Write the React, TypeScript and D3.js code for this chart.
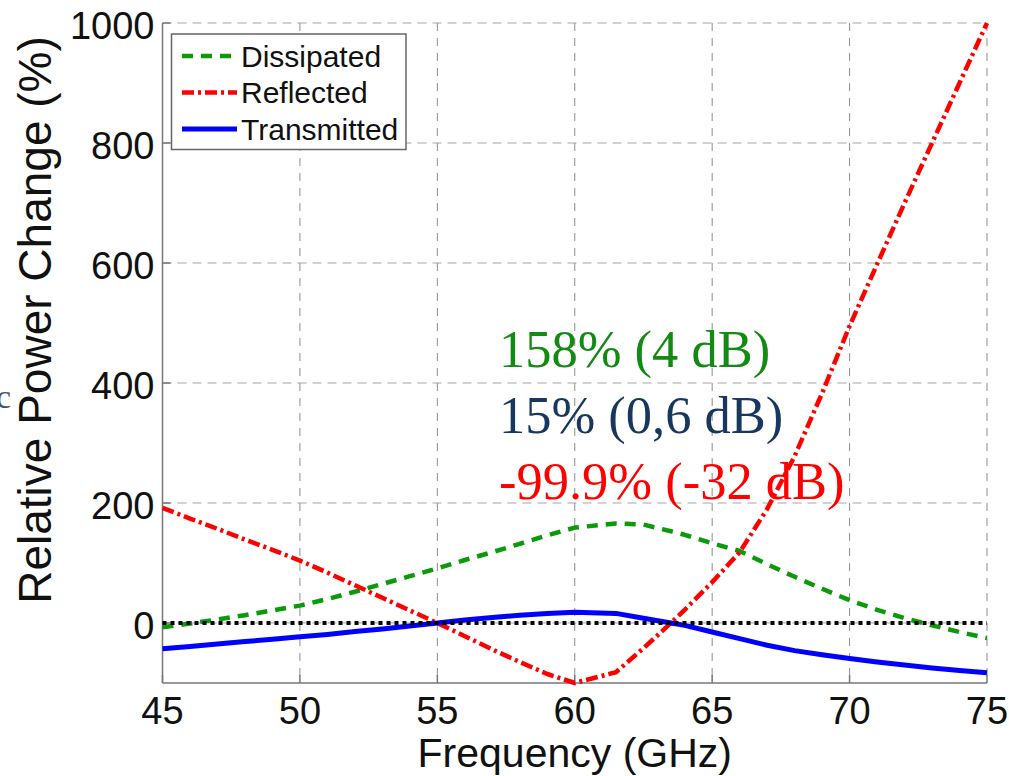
import * as d3 from "d3";

// frequency samples (GHz) and relative power change (%)
const FREQ = [45, 46, 47, 48, 49, 50, 51, 52, 53, 54, 55, 56, 57, 58, 59, 60, 61.5, 62.5, 63.5, 64, 65, 66, 67, 68, 69, 70, 71, 72, 73, 74, 75];
const DISSIPATED = [-7, -1, 6, 13, 21, 29, 40, 52, 65, 78, 91, 105, 118, 132, 146, 159, 166, 164, 153, 147, 133, 120, 98, 77, 57, 38, 22, 8, -4, -15, -25];
const REFLECTED = [192, 174, 157, 139, 122, 104, 84, 63, 42, 21, 0, -22, -44, -65, -85, -100, -82, -42, 0, 22, 68, 118, 190, 278, 383, 495, 598, 700, 800, 900, 1000];
const TRANSMITTED = [-43, -39, -35, -31, -27, -23, -19, -14, -10, -5, 0, 5, 9, 13, 16, 18, 16, 8, 0, -4, -15, -26, -37, -46, -53, -59, -65, -70, -75, -79, -83];

const X_TICKS = [45, 50, 55, 60, 65, 70, 75];
const Y_TICKS = [0, 200, 400, 600, 800, 1000];

const SERIES_NAMES = ["Dissipated", "Reflected", "Transmitted"];
const NOTES = ["158% (4 dB)", "15% (0,6 dB)", "-99.9% (-32 dB)"];
const NOTE_COLORS = ["#138a13", "#17375e", "#ff0000"];

const W = 1009;
const H = 776;
const SANS = "'Liberation Sans', Arial, Helvetica, sans-serif";
const SERIF = "'Liberation Serif', 'Times New Roman', serif";

export default function App() {
  const x = d3.scaleLinear().domain([45, 75]).range([162.5, 987]);
  const y = d3.scaleLinear().domain([-100, 1000]).range([683, 23]);

  const mk = (vals: number[]) =>
    d3.line<number>().x((_, i) => x(FREQ[i])).y((d) => y(d))(vals) || "";

  const styles = [
    { color: "#0a9a0a", dash: "11,8", width: 4.5, data: DISSIPATED },
    { color: "#ff0000", dash: "12,4,3,4", width: 4.5, data: REFLECTED },
    { color: "#0000ff", dash: "none", width: 5, data: TRANSMITTED },
  ];

  const [x0, x1] = x.range();
  const [yb, yt] = y.range();

  return (
    <svg width={W} height={H} style={{ position: "absolute", left: 0, top: 0, background: "#fff" }}>
      {/* grid */}
      {Y_TICKS.map((t) => (
        <line key={"gy" + t} x1={x0} x2={x1} y1={y(t)} y2={y(t)} stroke="#c4c4c4" strokeWidth={1.5} strokeDasharray="9,6" />
      ))}
      {X_TICKS.map((t) => (
        <line key={"gx" + t} x1={x(t)} x2={x(t)} y1={yt} y2={yb} stroke="#8c8c8c" strokeWidth={1} strokeDasharray="8,7" />
      ))}

      {/* axes */}
      <line x1={x0} x2={x0} y1={yt} y2={yb} stroke="#777" strokeWidth={1.5} />
      <line x1={x0} x2={x1} y1={yb} y2={yb} stroke="#777" strokeWidth={1.5} />
      {Y_TICKS.map((t) => (
        <line key={"ty" + t} x1={x0} x2={x0 + 8} y1={y(t)} y2={y(t)} stroke="#777" strokeWidth={1.5} />
      ))}
      {X_TICKS.map((t) => (
        <line key={"tx" + t} x1={x(t)} x2={x(t)} y1={yb} y2={yb - 8} stroke="#777" strokeWidth={1.5} />
      ))}

      {/* tick labels */}
      {Y_TICKS.map((t) => (
        <text key={"ly" + t} x={x0 - 8} y={y(t) + 15.5} textAnchor="end" fontFamily={SANS} fontSize={38} fill="#111">
          {t}
        </text>
      ))}
      {X_TICKS.map((t) => (
        <text key={"lx" + t} x={x(t)} y={724} textAnchor="middle" fontFamily={SANS} fontSize={38} fill="#111">
          {t}
        </text>
      ))}
      <text x={(x0 + x1) / 2} y={767} textAnchor="middle" fontFamily={SANS} fontSize={41} fill="#111">
        Frequency (GHz)
      </text>
      <text transform="translate(51,320) rotate(-90)" textAnchor="middle" fontFamily={SANS} fontSize={46} fill="#111">
        Relative Power Change (%)
      </text>

      {/* series */}
      {styles.map((s, i) => (
        <path key={"s" + i} d={mk(s.data)} fill="none" stroke={s.color} strokeWidth={s.width} strokeDasharray={s.dash} strokeLinejoin="round" />
      ))}
      <line x1={x0} x2={x1} y1={y(0)} y2={y(0)} stroke="#000" strokeWidth={4} strokeDasharray="4,4" />

      {/* legend */}
      <rect x={171.5} y={34} width={234.5} height={115.5} fill="#fff" stroke="#666" strokeWidth={1.5} />
      {SERIES_NAMES.map((name, i) => (
        <g key={name}>
          <line x1={182} x2={237} y1={56 + i * 36.5} y2={56 + i * 36.5} stroke={styles[i].color} strokeWidth={styles[i].width} strokeDasharray={styles[i].dash} />
          <text x={241} y={66.5 + i * 36.5} fontFamily={SANS} fontSize={30} fill="#111">
            {name}
          </text>
        </g>
      ))}

      {/* annotations */}
      {NOTES.map((n, i) => (
        <text key={n} x={499} y={367 + i * 66} fontFamily={SERIF} fontSize={52.5} fill={NOTE_COLORS[i]}>
          {n}
        </text>
      ))}
      <text x={-4} y={408} fontFamily={SERIF} fontSize={34} fill="#44546a">
        c
      </text>
    </svg>
  );
}
